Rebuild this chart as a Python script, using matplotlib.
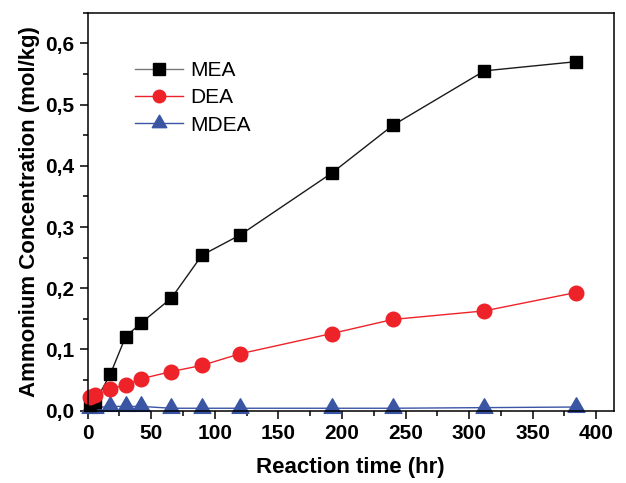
import matplotlib
matplotlib.use("Agg")
import matplotlib.pyplot as plt
from matplotlib.path import Path
from matplotlib.ticker import MultipleLocator, FuncFormatter

# Sampling times (hr)
time_hr = [2, 6, 18, 30, 42, 66, 90, 120, 192, 240, 312, 384]

# Ammonium concentration (mol/kg) for each amine
mea = [0.010, 0.014, 0.060, 0.121, 0.143, 0.184, 0.254, 0.287, 0.388, 0.466, 0.555, 0.570]
dea = [0.022, 0.025, 0.036, 0.042, 0.052, 0.064, 0.074, 0.093, 0.126, 0.149, 0.163, 0.193]
mdea = [0.005, 0.005, 0.007, 0.007, 0.007, 0.004, 0.004, 0.004, 0.004, 0.004, 0.005, 0.006]

series_names = ["MEA", "DEA", "MDEA"]
x_label = "Reaction time (hr)"
y_label = "Ammonium Concentration (mol/kg)"

plt.rcParams['font.family'] = ['Liberation Sans', 'DejaVu Sans']

# Up-triangle anchored at its centroid
tri = Path([(0, 1), (-0.866, -0.5), (0.866, -0.5), (0, 1)],
           [Path.MOVETO, Path.LINETO, Path.LINETO, Path.CLOSEPOLY])

fig = plt.figure(figsize=(6.26, 4.83), dpi=100)
ax = fig.add_axes([0.1398, 0.1497, 0.8412, 0.824])

ax.plot(time_hr, mea, color='#1a1a1a', lw=1.0, marker='s', ms=9,
        mfc='#000000', mec='#000000', label=series_names[0], clip_on=False, zorder=3)
ax.plot(time_hr, dea, color='#ee2229', lw=1.0, marker='o', ms=10.5,
        mfc='#ee2229', mec='#ee2229', label=series_names[1], clip_on=False, zorder=3)
ax.plot(time_hr, mdea, color='#3a55a4', lw=1.0, marker=tri, ms=14,
        mfc='#3a55a4', mec='#3a55a4', label=series_names[2], clip_on=False, zorder=2)

ax.set_xlim(0, 414)
ax.set_ylim(0, 0.65)

ax.xaxis.set_major_locator(MultipleLocator(50))
ax.xaxis.set_minor_locator(MultipleLocator(25))
ax.yaxis.set_major_locator(MultipleLocator(0.1))
ax.yaxis.set_minor_locator(MultipleLocator(0.05))
ax.yaxis.set_major_formatter(FuncFormatter(lambda v, p: f"{v:.1f}".replace('.', ',')))

ax.tick_params(which='major', direction='out', length=6, width=1.1,
               labelsize=15, top=False, right=False)
ax.tick_params(which='minor', direction='out', length=3.5, width=1.1,
               top=False, right=False)
for lbl in ax.get_xticklabels() + ax.get_yticklabels():
    lbl.set_fontweight('bold')

for sp in ax.spines.values():
    sp.set_linewidth(1.1)
    sp.set_zorder(4)

ax.set_xlabel(x_label, fontsize=16, fontweight='bold', labelpad=10)
ax.set_ylabel(y_label, fontsize=16, fontweight='bold', labelpad=4)

leg = ax.legend(loc='upper left', bbox_to_anchor=(0.075, 0.9), frameon=False,
                fontsize=15, handlelength=2.3, handletextpad=0.35,
                labelspacing=0.4, borderaxespad=0)
for h, ms in zip(leg.legend_handles, [8, 9, 12]):
    h.set_markersize(ms)
leg.legend_handles[0].set_color('#777777')
leg.legend_handles[0].set_markerfacecolor('#000000')
leg.legend_handles[0].set_markeredgecolor('#000000')

fig.savefig("out.png", dpi=100)
